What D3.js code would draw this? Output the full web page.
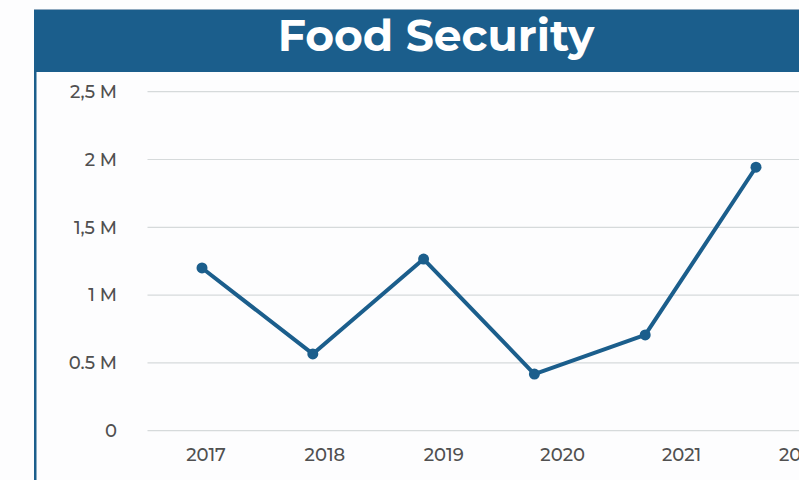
<!DOCTYPE html>
<html>
<head>
<meta charset="utf-8">
<script src="https://cdn.jsdelivr.net/npm/d3@7"></script>
<style>
  html, body { margin: 0; padding: 0; background: #fff; }
  svg { display: block; }
</style>
</head>
<body>
<svg id="chart" width="799" height="480"></svg>
<script>
const years = ['2017', '2018', '2019', '2020', '2021', '2022'];
const values = [1200000, 566000, 1266000, 418000, 706000, 1943000];
const yTicks = [0, 500000, 1000000, 1500000, 2000000, 2500000];
const yTickLabels = ['0', '0.5 M', '1 M', '1,5 M', '2 M', '2,5 M'];
const title = 'Food Security';

const svg = d3.select('svg#chart');
const blue = '#1b5e8c';
const font = 'Montserrat, "Open Sans", sans-serif';

// banner + left rule
svg.append('rect').attr('x', 0).attr('y', 0).attr('width', 799).attr('height', 480).attr('fill', '#fdfdfe');
svg.append('rect').attr('x', 34).attr('y', 9).attr('width', 780).attr('height', 63).attr('fill', blue);
svg.append('line').attr('x1', 34).attr('x2', 799).attr('y1', 9.5).attr('y2', 9.5)
  .attr('stroke', '#8fa9bf').attr('stroke-width', 1);
svg.append('rect').attr('x', 34).attr('y', 72).attr('width', 2.5).attr('height', 408).attr('fill', blue);
svg.append('text')
  .attr('x', 436).attr('y', 51)
  .attr('text-anchor', 'middle')
  .attr('fill', '#fff')
  .style('font-family', font)
  .style('font-weight', 700)
  .style('font-size', '44px')
  .text(title);

const y = d3.scaleLinear().domain([0, 2500000]).range([430.7, 91.7]);
const xLine = d3.scalePoint().domain(years).range([202, 756]);
const xLabel = d3.scalePoint().domain(years).range([205.5, 800]);

// grid
svg.append('g')
  .selectAll('line')
  .data(yTicks)
  .join('line')
  .attr('x1', 147.5).attr('x2', 799)
  .attr('y1', d => y(d)).attr('y2', d => y(d))
  .attr('stroke', '#d6dadb').attr('stroke-width', 1.2);

// y axis labels
const yAxis = svg.append('g')
  .attr('transform', 'translate(117,0)')
  .call(d3.axisLeft(y).tickValues(yTicks).tickSize(0).tickPadding(0)
    .tickFormat((d, i) => yTickLabels[i]));
yAxis.select('.domain').remove();
yAxis.selectAll('text')
  .attr('fill', '#505050')
  .style('font-family', font)
  .style('font-weight', 500)
  .style('font-size', '18px');

// x axis labels
const xAxis = svg.append('g')
  .attr('transform', 'translate(0,448)')
  .call(d3.axisBottom(xLabel).tickSize(0).tickPadding(0));
xAxis.select('.domain').remove();
xAxis.selectAll('text')
  .attr('fill', '#505050')
  .style('font-family', font)
  .style('font-weight', 500)
  .style('font-size', '18px');

// line
const line = d3.line()
  .x((d, i) => xLine(years[i]))
  .y(d => y(d));
svg.append('path')
  .datum(values)
  .attr('d', line)
  .attr('fill', 'none')
  .attr('stroke', blue)
  .attr('stroke-width', 4)
  .attr('stroke-linejoin', 'round');

svg.append('g')
  .selectAll('circle')
  .data(values)
  .join('circle')
  .attr('cx', (d, i) => xLine(years[i]))
  .attr('cy', d => y(d))
  .attr('r', 5.5)
  .attr('fill', blue);
</script>
</body>
</html>
